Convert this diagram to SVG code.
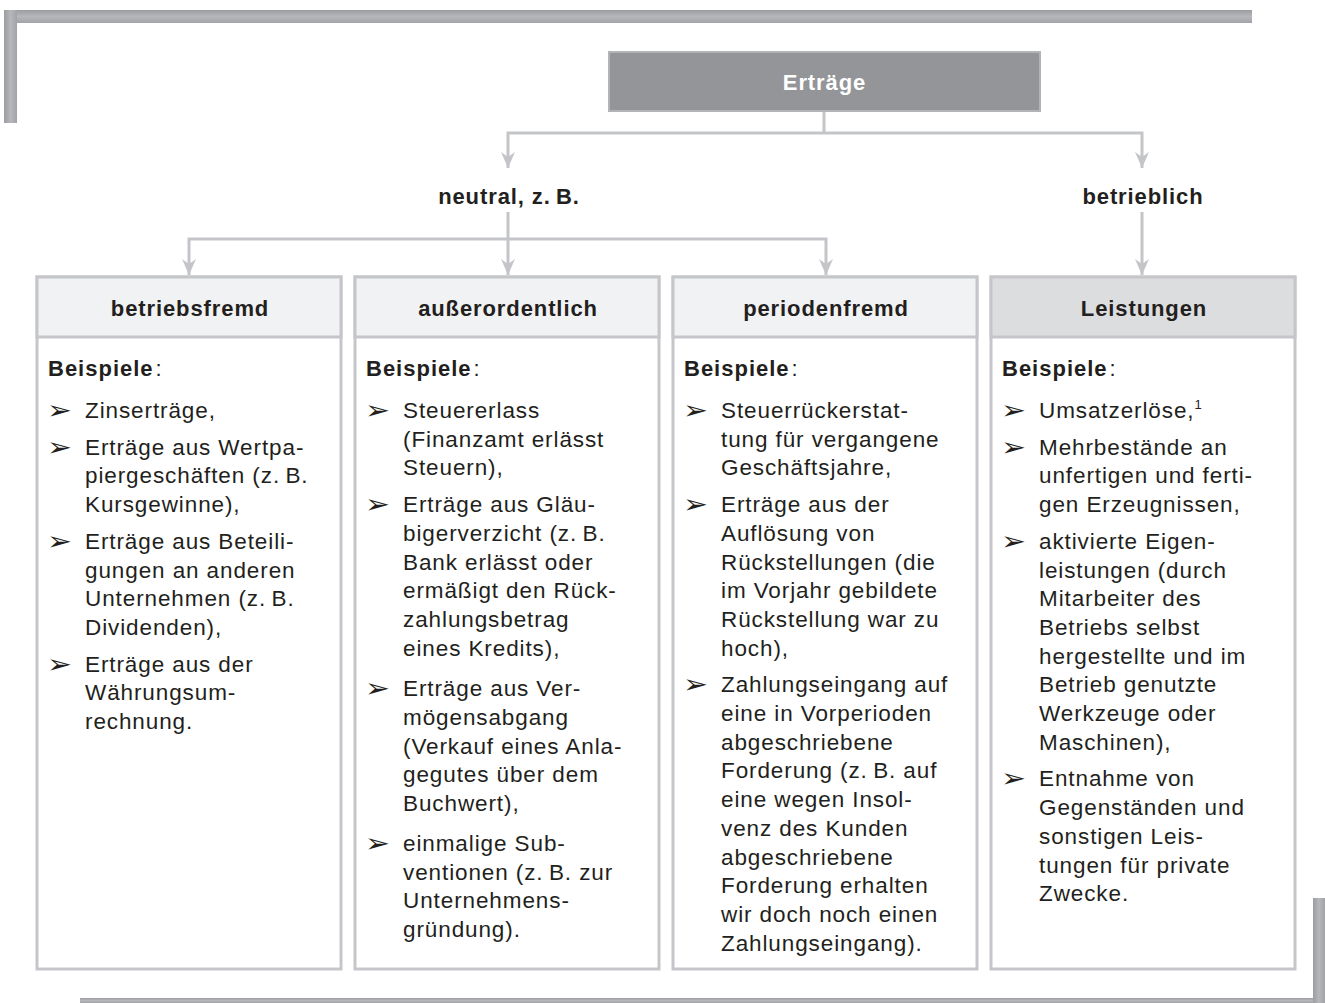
<svg xmlns="http://www.w3.org/2000/svg" width="1325" height="1003" viewBox="0 0 1325 1003">
<style>
.t{font-family:"Liberation Sans",Arial,sans-serif;font-size:22.5px;letter-spacing:0.9px;fill:#231f20}
.b{font-family:"Liberation Sans",Arial,sans-serif;font-size:22px;font-weight:bold;letter-spacing:1px;fill:#231f20}
.hd{font-family:"Liberation Sans",Arial,sans-serif;font-size:22px;font-weight:bold;letter-spacing:0.9px;fill:#231f20;text-anchor:middle}
.bul{font-family:"DejaVu Sans",sans-serif;font-size:26px;fill:#231f20}
.box{fill:#ffffff;stroke:#c5c6c9;stroke-width:3}
.head{fill:#f1f2f3;stroke:#c5c6c9;stroke-width:3}
.head2{fill:#dcdddf;stroke:#c5c6c9;stroke-width:3}
.con{fill:none;stroke:#c4c5c8;stroke-width:3}
</style>
<defs>
<linearGradient id="gv" x1="0" y1="0" x2="0" y2="1">
<stop offset="0" stop-color="#9c9da1"/><stop offset="0.5" stop-color="#b6b7bb"/><stop offset="1" stop-color="#a2a3a7"/>
</linearGradient>
<linearGradient id="gh" x1="0" y1="0" x2="1" y2="0">
<stop offset="0" stop-color="#9c9da1"/><stop offset="0.5" stop-color="#b6b7bb"/><stop offset="1" stop-color="#a2a3a7"/>
</linearGradient>
<marker id="ar" viewBox="0 0 16 14" markerWidth="16" markerHeight="14" refX="16" refY="7" orient="auto" markerUnits="userSpaceOnUse">
<path d="M0,0 L16,7 L0,14 L5,7 Z" fill="#c4c5c8"/>
</marker>
</defs>
<g id="frame">
<rect x="4" y="10" width="1248" height="13" fill="url(#gv)"/>
<rect x="4" y="10" width="13" height="113" fill="url(#gh)"/>
<rect x="80" y="998" width="1245" height="5" fill="url(#gv)"/>
<rect x="1313" y="898" width="12" height="105" fill="url(#gh)"/>
</g>
<g id="connectors">
<path class="con" d="M824,112 V133"/>
<path class="con" d="M824,133 H508 V168" marker-end="url(#ar)"/>
<path class="con" d="M824,133 H1142 V168" marker-end="url(#ar)"/>
<path class="con" d="M508,212 V275" marker-end="url(#ar)"/>
<path class="con" d="M508,239 H189 V275" marker-end="url(#ar)"/>
<path class="con" d="M508,239 H826 V275" marker-end="url(#ar)"/>
<path class="con" d="M1142,212 V275" marker-end="url(#ar)"/>
</g>
<g id="ertraege">
<rect x="609" y="52" width="431" height="59" fill="#939598" stroke="#b3b4b7" stroke-width="2"/>
<text x="824.5" y="90" class="hd" style="fill:#ffffff">Erträge</text>
</g>
<g id="neutral">
<text x="509" y="204" class="hd">neutral, z.&#8201;B.</text>
</g>
<g id="betrieblich">
<text x="1143" y="204" class="hd">betrieblich</text>
</g>
<g id="betriebsfremd">
<rect x="37" y="277" width="304" height="692" class="box"/>
<rect x="37" y="277" width="304" height="60" class="head"/>
<text x="190" y="316" class="hd">betriebsfremd</text>
<text x="48" y="376" class="b">Beispiele<tspan font-weight="normal" dx="2">:</tspan></text>
<text class="bul" x="47" y="419" textLength="25" lengthAdjust="spacingAndGlyphs">➢</text>
<text class="bul" x="47" y="455.7" textLength="25" lengthAdjust="spacingAndGlyphs">➢</text>
<text class="bul" x="47" y="549.8" textLength="25" lengthAdjust="spacingAndGlyphs">➢</text>
<text class="bul" x="47" y="672.6" textLength="25" lengthAdjust="spacingAndGlyphs">➢</text>
<text class="t">
<tspan x="85" y="418">Zinserträge,</tspan>
<tspan x="85" y="454.7">Erträge aus Wertpa-</tspan>
<tspan x="85" y="483.4">piergeschäften (z.&#8201;B.</tspan>
<tspan x="85" y="512.1">Kursgewinne),</tspan>
<tspan x="85" y="548.8">Erträge aus Beteili-</tspan>
<tspan x="85" y="577.5">gungen an anderen</tspan>
<tspan x="85" y="606.2">Unternehmen (z.&#8201;B.</tspan>
<tspan x="85" y="634.9">Dividenden),</tspan>
<tspan x="85" y="671.6">Erträge aus der</tspan>
<tspan x="85" y="700.3">Währungsum-</tspan>
<tspan x="85" y="729">rechnung.</tspan>
</text>
</g>
<g id="ausserordentlich">
<rect x="355" y="277" width="304" height="692" class="box"/>
<rect x="355" y="277" width="304" height="60" class="head"/>
<text x="508" y="316" class="hd">außerordentlich</text>
<text x="366" y="376" class="b">Beispiele<tspan font-weight="normal" dx="2">:</tspan></text>
<text class="bul" x="365" y="419" textLength="25" lengthAdjust="spacingAndGlyphs">➢</text>
<text class="bul" x="365" y="513.1" textLength="25" lengthAdjust="spacingAndGlyphs">➢</text>
<text class="bul" x="365" y="697.3" textLength="25" lengthAdjust="spacingAndGlyphs">➢</text>
<text class="bul" x="365" y="851.8" textLength="25" lengthAdjust="spacingAndGlyphs">➢</text>
<text class="t">
<tspan x="403" y="418">Steuererlass</tspan>
<tspan x="403" y="446.7">(Finanzamt erlässt</tspan>
<tspan x="403" y="475.4">Steuern),</tspan>
<tspan x="403" y="512.1">Erträge aus Gläu-</tspan>
<tspan x="403" y="540.8">bigerverzicht (z.&#8201;B.</tspan>
<tspan x="403" y="569.5">Bank erlässt oder</tspan>
<tspan x="403" y="598.2">ermäßigt den Rück-</tspan>
<tspan x="403" y="626.9">zahlungsbetrag</tspan>
<tspan x="403" y="655.6">eines Kredits),</tspan>
<tspan x="403" y="696.3">Erträge aus Ver-</tspan>
<tspan x="403" y="725">mögensabgang</tspan>
<tspan x="403" y="753.7">(Verkauf eines Anla-</tspan>
<tspan x="403" y="782.4">gegutes über dem</tspan>
<tspan x="403" y="811.1">Buchwert),</tspan>
<tspan x="403" y="850.8">einmalige Sub-</tspan>
<tspan x="403" y="879.5">ventionen (z.&#8201;B. zur</tspan>
<tspan x="403" y="908.2">Unternehmens-</tspan>
<tspan x="403" y="936.9">gründung).</tspan>
</text>
</g>
<g id="periodenfremd">
<rect x="673" y="277" width="304" height="692" class="box"/>
<rect x="673" y="277" width="304" height="60" class="head"/>
<text x="826" y="316" class="hd">periodenfremd</text>
<text x="684" y="376" class="b">Beispiele<tspan font-weight="normal" dx="2">:</tspan></text>
<text class="bul" x="683" y="419" textLength="25" lengthAdjust="spacingAndGlyphs">➢</text>
<text class="bul" x="683" y="513.1" textLength="25" lengthAdjust="spacingAndGlyphs">➢</text>
<text class="bul" x="683" y="693.3" textLength="25" lengthAdjust="spacingAndGlyphs">➢</text>
<text class="t">
<tspan x="721" y="418">Steuerrückerstat-</tspan>
<tspan x="721" y="446.7">tung für vergangene</tspan>
<tspan x="721" y="475.4">Geschäftsjahre,</tspan>
<tspan x="721" y="512.1">Erträge aus der</tspan>
<tspan x="721" y="540.8">Auflösung von</tspan>
<tspan x="721" y="569.5">Rückstellungen (die</tspan>
<tspan x="721" y="598.2">im Vorjahr gebildete</tspan>
<tspan x="721" y="626.9">Rückstellung war zu</tspan>
<tspan x="721" y="655.6">hoch),</tspan>
<tspan x="721" y="692.3">Zahlungseingang auf</tspan>
<tspan x="721" y="721">eine in Vorperioden</tspan>
<tspan x="721" y="749.7">abgeschriebene</tspan>
<tspan x="721" y="778.4">Forderung (z.&#8201;B. auf</tspan>
<tspan x="721" y="807.1">eine wegen Insol-</tspan>
<tspan x="721" y="835.8">venz des Kunden</tspan>
<tspan x="721" y="864.5">abgeschriebene</tspan>
<tspan x="721" y="893.2">Forderung erhalten</tspan>
<tspan x="721" y="921.9">wir doch noch einen</tspan>
<tspan x="721" y="950.6">Zahlungseingang).</tspan>
</text>
</g>
<g id="leistungen">
<rect x="991" y="277" width="304" height="692" class="box"/>
<rect x="991" y="277" width="304" height="60" class="head2"/>
<text x="1144" y="316" class="hd">Leistungen</text>
<text x="1002" y="376" class="b">Beispiele<tspan font-weight="normal" dx="2">:</tspan></text>
<text class="bul" x="1001" y="419" textLength="25" lengthAdjust="spacingAndGlyphs">➢</text>
<text class="bul" x="1001" y="455.7" textLength="25" lengthAdjust="spacingAndGlyphs">➢</text>
<text class="bul" x="1001" y="549.8" textLength="25" lengthAdjust="spacingAndGlyphs">➢</text>
<text class="bul" x="1001" y="787.4" textLength="25" lengthAdjust="spacingAndGlyphs">➢</text>
<text class="t">
<tspan x="1039" y="418">Umsatzerlöse,<tspan dy="-9" font-size="13">1</tspan></tspan>
<tspan x="1039" y="454.7">Mehrbestände an</tspan>
<tspan x="1039" y="483.4">unfertigen und ferti-</tspan>
<tspan x="1039" y="512.1">gen Erzeugnissen,</tspan>
<tspan x="1039" y="548.8">aktivierte Eigen-</tspan>
<tspan x="1039" y="577.5">leistungen (durch</tspan>
<tspan x="1039" y="606.2">Mitarbeiter des</tspan>
<tspan x="1039" y="634.9">Betriebs selbst</tspan>
<tspan x="1039" y="663.6">hergestellte und im</tspan>
<tspan x="1039" y="692.3">Betrieb genutzte</tspan>
<tspan x="1039" y="721">Werkzeuge oder</tspan>
<tspan x="1039" y="749.7">Maschinen),</tspan>
<tspan x="1039" y="786.4">Entnahme von</tspan>
<tspan x="1039" y="815.1">Gegenständen und</tspan>
<tspan x="1039" y="843.8">sonstigen Leis-</tspan>
<tspan x="1039" y="872.5">tungen für private</tspan>
<tspan x="1039" y="901.2">Zwecke.</tspan>
</text>
</g>
</svg>
